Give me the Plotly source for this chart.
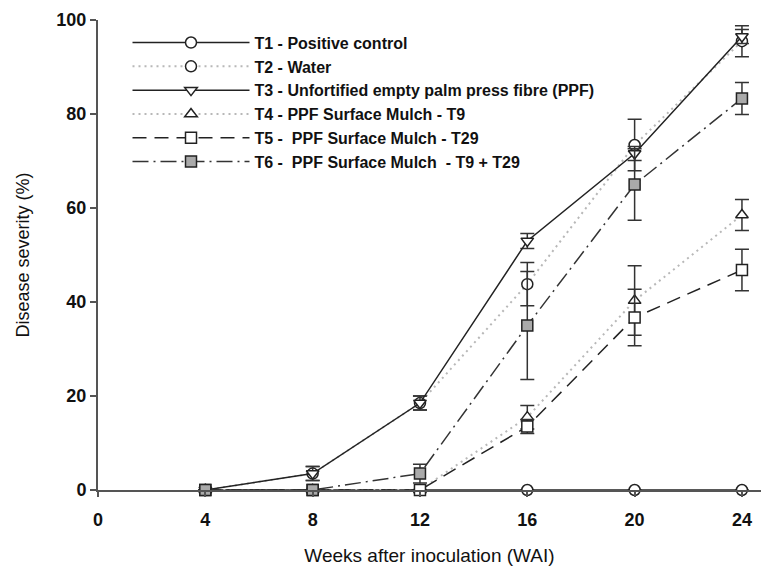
import plotly.graph_objects as go

weeks = [4, 8, 12, 16, 20, 24]

names = [
    "T1 - Positive control",
    "T2 - Water",
    "T3 - Unfortified empty palm press fibre (PPF)",
    "T4 - PPF Surface Mulch - T9",
    "T5 -  PPF Surface Mulch - T29",
    "T6 -  PPF Surface Mulch  - T9 + T29",
]

t1 = [0, 0, 0, 0, 0, 0]
t2 = [0, 3.5, 18.5, 43.8, 73.4, 95.5]
t3 = [0, 3.5, 18.5, 53.0, 71.6, 96.5]
t4 = [0, 0, 0, 15.5, 40.3, 58.5]
t5 = [0, 0, 0, 13.5, 36.7, 46.8]
t6 = [0, 0, 3.5, 35.0, 65.0, 83.3]

e1 = [0, 0, 0, 0, 0, 0]
e2 = [0, 1.5, 1.5, 4.6, 5.5, 3.3]
e3 = [0, 1.5, 1.5, 1.6, 1.5, 1.5]
e4 = [0, 0, 0, 2.5, 7.4, 3.3]
e5 = [0, 0, 0, 1.5, 6.0, 4.4]
e6 = [0, 0, 2.0, 11.5, 7.6, 3.4]

x_ticks = [0, 4, 8, 12, 16, 20, 24]
y_ticks = [0, 20, 40, 60, 80, 100]

series = [
    (t1, e1, dict(color="#222222", width=1.5, dash="solid"), "circle", "white"),
    (t2, e2, dict(color="#b8b8b8", width=2, dash="2px,4px"), "circle", "white"),
    (t3, e3, dict(color="#222222", width=1.5, dash="solid"), "triangle-down", "white"),
    (t4, e4, dict(color="#b8b8b8", width=2, dash="2px,4px"), "triangle-up", "white"),
    (t5, e5, dict(color="#222222", width=1.5, dash="14px,8px"), "square", "white"),
    (t6, e6, dict(color="#333333", width=1.5, dash="16px,5px,2px,5px"), "square", "#aaaaaa"),
]

fig = go.Figure()
for (vals, errs, line, sym, fill), name in zip(series, names):
    fig.add_trace(go.Scatter(
        x=weeks, y=vals, name=name, mode="lines+markers",
        line=line,
        marker=dict(symbol=sym, size=11, color=fill,
                    line=dict(color="#222222", width=1.5)),
        error_y=dict(type="data", array=errs, visible=True,
                     color="#333333", thickness=1.5, width=7),
        cliponaxis=False,
    ))

tick_font = dict(family="Liberation Sans, Arial, sans-serif", size=18, color="#111111", weight="bold")
title_font = dict(family="Liberation Sans, Arial, sans-serif", size=18, color="#111111")

fig.update_layout(
    width=761, height=570,
    margin=dict(l=98, r=0, t=20, b=80),
    paper_bgcolor="white", plot_bgcolor="white",
    showlegend=True,
    legend=dict(
        x=0.0445, y=0.988, xanchor="left", yanchor="top",
        bgcolor="rgba(0,0,0,0)",
        font=dict(family="Liberation Sans, Arial, sans-serif", size=16, color="#111111", weight="bold"),
        itemwidth=117,
        tracegroupgap=0,
    ),
    xaxis=dict(
        range=[0, 24.71], tickvals=x_ticks, ticktext=[str(v) for v in x_ticks],
        showgrid=False, zeroline=False,
        showline=True, linecolor="#555555", linewidth=2,
        ticks="outside", ticklen=5, tickcolor="#555555", tickwidth=1.5,
        ticklabelstandoff=7,
        tickfont=tick_font,
        title=dict(text="Weeks after inoculation (WAI)", standoff=20,
                   font=dict(family="Liberation Sans, Arial, sans-serif", size=19, color="#111111")),
    ),
    yaxis=dict(
        range=[0, 100], tickvals=y_ticks, ticktext=[str(v) for v in y_ticks],
        showgrid=False, zeroline=False,
        showline=True, linecolor="#555555", linewidth=2,
        ticks="outside", ticklen=6, tickcolor="#555555", tickwidth=1.5,
        tickfont=tick_font,
        title=dict(text="Disease severity (%)", standoff=22, font=title_font),
    ),
)

fig.write_html("out.html")
